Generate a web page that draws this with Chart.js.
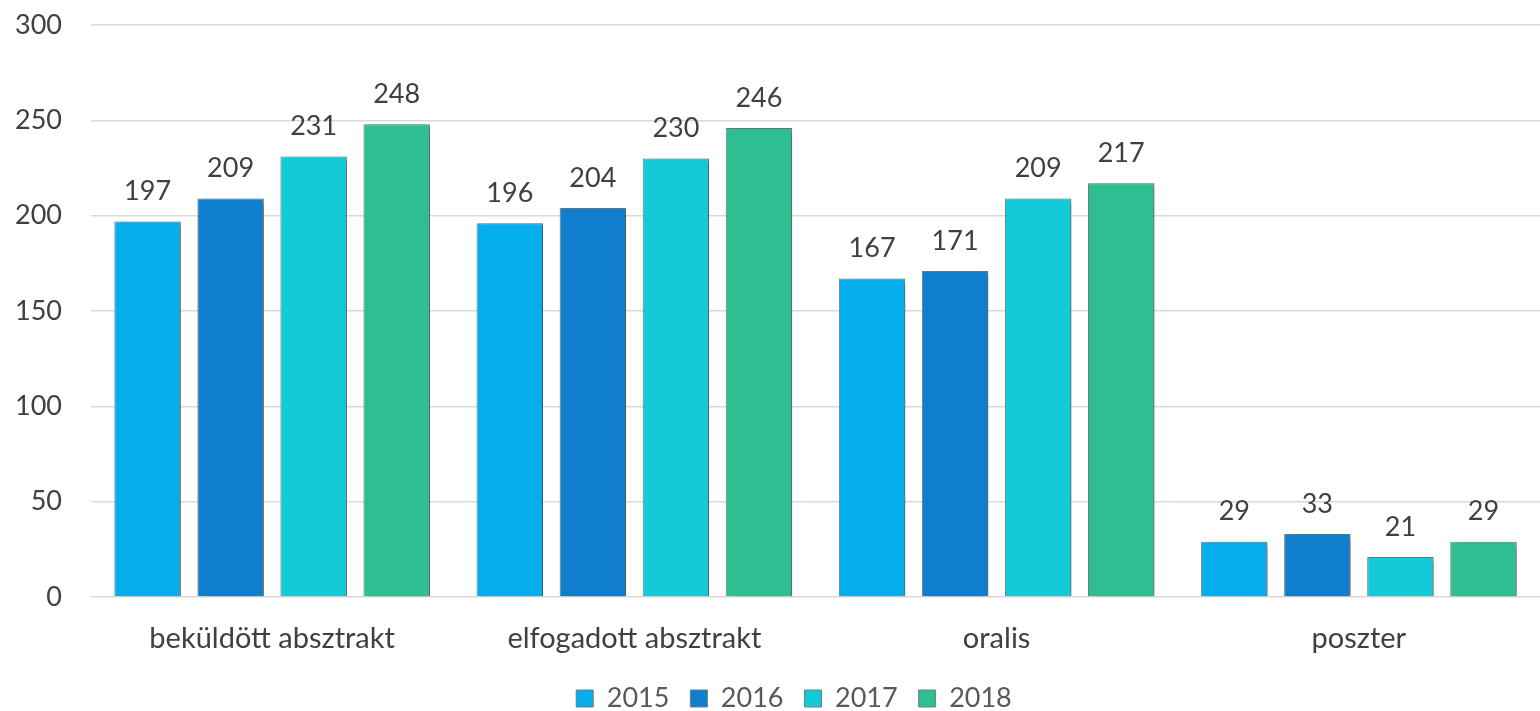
<!DOCTYPE html>
<html><head><meta charset="utf-8">
<script src="https://cdn.jsdelivr.net/npm/chart.js@4"></script>
<style>html,body{margin:0;padding:0;background:#fff}#w{width:1540px;height:711px}</style>
</head><body><div id="w"><canvas id="c"></canvas></div>
<script>
const categories = ["beküldött absztrakt", "elfogadott absztrakt", "oralis", "poszter"];
const seriesNames = ["2015", "2016", "2017", "2018"];
const values2015 = [197, 196, 167, 29];
const values2016 = [209, 204, 171, 33];
const values2017 = [231, 230, 209, 21];
const values2018 = [248, 246, 217, 29];
const yTicks = [0, 50, 100, 150, 200, 250, 300];
const colors = ["#05AFEE", "#0F7ECC", "#12CBD6", "#2EBE92"];
const FONT = "Lato, 'Open Sans', sans-serif";

const shadowPlugin = {
  id: 'shadow',
  afterLayout(chart) {
    if (chart.legend) { chart.legend.left += 24; chart.legend.right += 24; }
  },
  beforeDatasetsDraw(chart) {
    const ctx = chart.ctx; ctx.save();
    ctx.shadowColor = 'rgba(0,0,0,0.4)'; ctx.shadowBlur = 6; ctx.shadowOffsetX = 4; ctx.shadowOffsetY = 2;
  },
  afterDatasetsDraw(chart) {
    const ctx = chart.ctx; ctx.restore();
    ctx.save();
    ctx.fillStyle = '#404040';
    ctx.font = "27px " + FONT;
    ctx.textAlign = 'center'; ctx.textBaseline = 'middle';
    chart.data.datasets.forEach((ds, i) => {
      chart.getDatasetMeta(i).data.forEach((bar, j) => {
        ctx.fillText(String(ds.data[j]), bar.x, bar.y - 30);
      });
    });
    ctx.restore();
  }
};

const allValues = [values2015, values2016, values2017, values2018];
new Chart(document.getElementById('c'), {
  type: 'bar',
  data: {
    labels: categories,
    datasets: seriesNames.map((n, i) => ({
      label: n, data: allValues[i], backgroundColor: colors[i],
      borderColor: '#6f7f85', borderWidth: 1,
      categoryPercentage: 0.917, barPercentage: 0.80
    }))
  },
  options: {
    responsive: true, maintainAspectRatio: false, animation: false,
    layout: { padding: { top: 25, right: 0, left: 0, bottom: 0 } },
    plugins: {
      tooltip: { enabled: false },
      legend: {
        position: 'bottom',
        maxHeight: 47,
        labels: { color: '#595959', font: { size: 27, family: FONT }, boxWidth: 17, boxHeight: 17, padding: 21 }
      }
    },
    scales: {
      x: {
        afterFit(axis) { axis.height = 67; axis.paddingLeft = 0; axis.paddingRight = 0; },
        grid: { display: false, drawTicks: false },
        border: { display: false },
        ticks: { color: '#404040', font: { size: 29, family: FONT }, padding: 24 }
      },
      y: {
        min: 0, max: 300,
        afterBuildTicks(axis) { axis.ticks = yTicks.map(v => ({ value: v })); },
        afterFit(axis) { axis.width = 91; axis.paddingTop = 0; axis.paddingBottom = 0; },
        grid: { color: '#d9d9d9', lineWidth: 1.5, drawTicks: false },
        border: { display: false },
        ticks: { color: '#404040', font: { size: 27, family: FONT }, padding: 29 }
      }
    }
  },
  plugins: [shadowPlugin]
});
</script></body></html>
